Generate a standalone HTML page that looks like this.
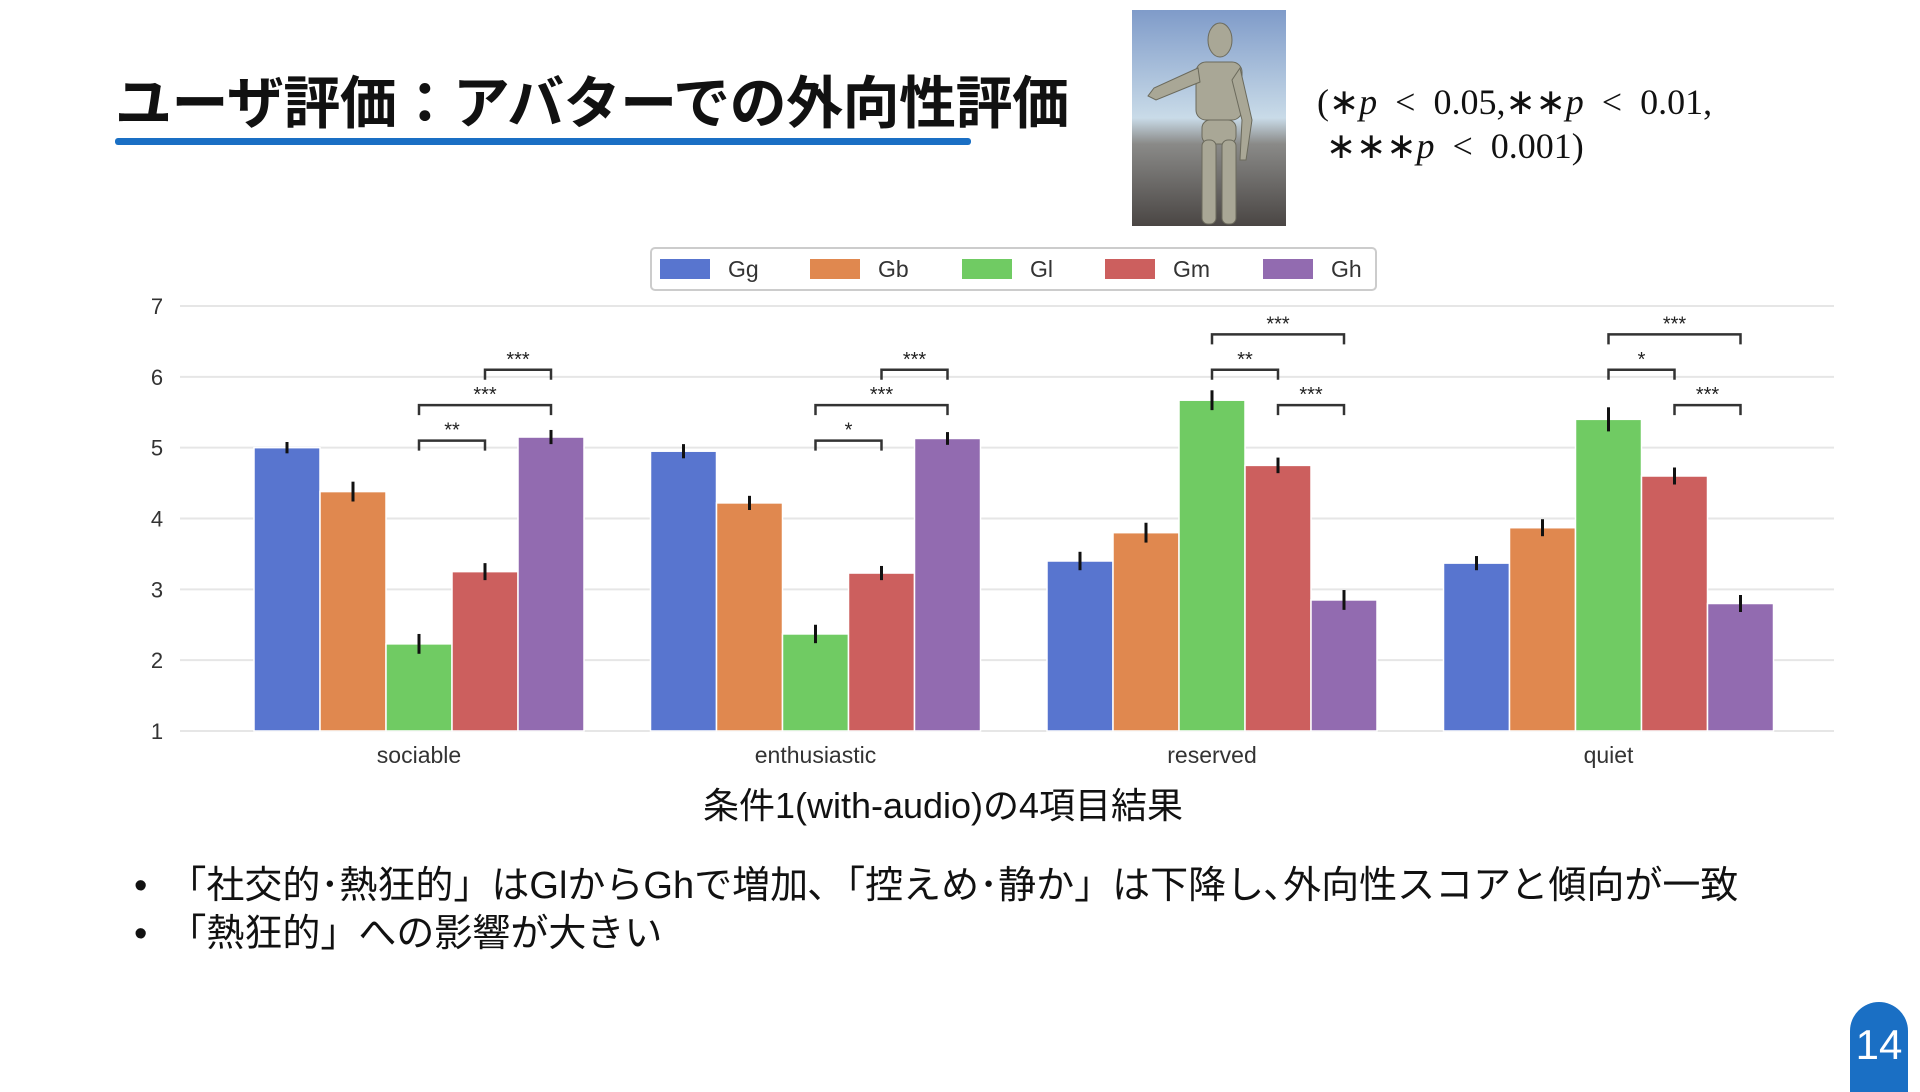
<!DOCTYPE html>
<html><head><meta charset="utf-8">
<style>
html,body{margin:0;padding:0;background:#fff;}
body{width:1920px;height:1080px;position:relative;overflow:hidden;font-family:"Liberation Sans","Noto Sans CJK JP",sans-serif;}
.abs{position:absolute;}
</style></head>
<body>
<div class="abs" style="left:115px;top:58px;font-size:57px;font-weight:bold;color:#111;white-space:nowrap;letter-spacing:-0.5px;font-family:'Liberation Sans','Noto Sans CJK JP',sans-serif;">ユーザ評価：アバターでの外向性評価</div>
<div class="abs" style="left:115px;top:138px;width:856px;height:7px;background:#1a6fc4;border-radius:3px;"></div>

<svg class="abs" style="left:1132px;top:10px;" width="154" height="216" viewBox="0 0 154 216">
<defs><linearGradient id="sky" x1="0" y1="0" x2="0" y2="1"><stop offset="0" stop-color="#7f9bc9"/><stop offset="0.5" stop-color="#c9dbe8"/><stop offset="0.62" stop-color="#8a8a88"/><stop offset="1" stop-color="#4a4644"/></linearGradient></defs>
<rect width="154" height="216" fill="url(#sky)"/>
<g fill="#a9a796" stroke="#6b6a5c" stroke-width="1">
<ellipse cx="88" cy="30" rx="12" ry="17"/>
<rect x="64" y="52" width="46" height="58" rx="10"/>
<path d="M66 58 L22 78 L16 86 L24 90 L68 72Z"/>
<path d="M108 58 L120 110 L114 150 L108 150 L110 110 L100 70Z"/>
<rect x="70" y="110" width="34" height="24" rx="8"/>
<rect x="70" y="130" width="14" height="84" rx="6"/>
<rect x="90" y="130" width="14" height="84" rx="6"/>
</g></svg>

<div class="abs" style="left:1317px;top:80px;font-family:'Liberation Serif',serif;font-size:36px;line-height:44px;color:#111;white-space:nowrap;">(∗<i>p</i> &nbsp;&lt;&nbsp; 0.05,∗∗<i>p</i> &nbsp;&lt;&nbsp; 0.01,<br>&nbsp;∗∗∗<i>p</i> &nbsp;&lt;&nbsp; 0.001)</div>

<svg class="abs" id="chart" style="left:0;top:0;" width="1920" height="1080"></svg>

<div class="abs" style="left:0;width:1886px;text-align:center;top:777px;font-size:36px;color:#111;">条件1(with-audio)の4項目結果</div>

<div class="abs" style="left:134px;top:862px;font-size:38px;line-height:48px;color:#111;white-space:nowrap;">
<div>•&nbsp;&nbsp;「社交的･熱狂的」はGlからGhで増加､「控えめ･静か」は下降し､外向性スコアと傾向が一致</div>
<div>•&nbsp;&nbsp;「熱狂的」への影響が大きい</div>
</div>

<div class="abs" style="left:1850px;top:1002px;width:58px;height:90px;background:#1a6fc4;border-radius:29px 29px 0 0;color:#fff;font-size:42px;text-align:center;line-height:86px;">14</div>

<script>
const categories=["sociable","enthusiastic","reserved","quiet"];
const seriesNames=["Gg","Gb","Gl","Gm","Gh"];
const seriesColors=["#5875cf","#e0884f","#70cb63","#cc5f5e","#926bb0"];
const valsGg=[5.0,4.95,3.4,3.37];
const valsGb=[4.38,4.22,3.8,3.87];
const valsGl=[2.23,2.37,5.67,5.4];
const valsGm=[3.25,3.23,4.75,4.6];
const valsGh=[5.15,5.13,2.85,2.8];
const errGg=[0.08,0.1,0.13,0.1];
const errGb=[0.14,0.1,0.14,0.12];
const errGl=[0.14,0.13,0.14,0.17];
const errGm=[0.12,0.1,0.11,0.12];
const errGh=[0.1,0.09,0.14,0.12];
const yTicks=[1,2,3,4,5,6,7];
const bracketCat=[0,0,0,1,1,1,2,2,2,3,3,3];
const bracketFrom=[2,2,3,2,2,3,2,3,2,2,3,2];
const bracketTo=[3,4,4,3,4,4,3,4,4,3,4,4];
const bracketLevel=[5.1,5.6,6.1,5.1,5.6,6.1,6.1,5.6,6.6,6.1,5.6,6.6];
const bracketLabel=["**","***","***","*","***","***","**","***","***","*","***","***"];

const NS="http://www.w3.org/2000/svg";
const svg=document.getElementById('chart');
const allVals=[valsGg,valsGb,valsGl,valsGm,valsGh];
const allErr=[errGg,errGb,errGl,errGm,errGh];
const X0=180,X1=1834,Y0=731,Y1=306;
const y=v=>Y0-(v-1)*(Y0-Y1)/6;
const groupW=396.5;
const barW=66;
const xc=i=>419+groupW*i;
const xb=(i,s)=>xc(i)+(s-2)*barW;
function el(tag,attrs,parent){const e=document.createElementNS(NS,tag);for(const k in attrs)e.setAttribute(k,attrs[k]);(parent||svg).appendChild(e);return e;}

yTicks.forEach(t=>{
  const g=el('line',{x1:X0,x2:X1,y1:y(t),y2:y(t),stroke:'#e6e6e6','stroke-width':2});
  
  
  const tx=el('text',{x:157,y:y(t)+8,'text-anchor':'middle','font-size':22,fill:'#333'});
  tx.textContent=t;
  
  
});
categories.forEach((c,i)=>{
  const tx=el('text',{x:xc(i),y:763,'text-anchor':'middle','font-size':23,fill:'#333'});
  tx.textContent=c;
  
  
  allVals.forEach((vals,s)=>{
    const cx=xb(i,s);
    const r=el('rect',{x:cx-barW/2,y:y(vals[i]),width:barW,height:Y0-y(vals[i]),fill:seriesColors[s],stroke:'#fff','stroke-width':1.5});
    
    
    const e=allErr[s][i];
    const l=el('line',{x1:cx,x2:cx,y1:y(vals[i]+e),y2:y(vals[i]-e),stroke:'#111','stroke-width':3});
    
    
  });
});
bracketCat.forEach((ci,k)=>{
  const xa=xb(ci,bracketFrom[k]),xz=xb(ci,bracketTo[k]),yy=y(bracketLevel[k]);
  const p=el('path',{d:`M${xa} ${yy+10} V${yy} H${xz} V${yy+10}`,fill:'none',stroke:'#333','stroke-width':2.5});
  
  
  const t=el('text',{x:(xa+xz)/2,y:yy-4,'text-anchor':'middle','font-size':20,fill:'#222'});
  t.textContent=bracketLabel[k];
  
  
});
const lg=el('rect',{x:651,y:248,width:725,height:42,fill:'#fff',stroke:'#ccc','stroke-width':2,rx:4});


const lx=[660,810,962,1105,1263];
seriesNames.forEach((n,s)=>{
  const r=el('rect',{x:lx[s],y:259,width:50,height:20,fill:seriesColors[s]});
  
  
  const t=el('text',{x:lx[s]+68,y:277,'font-size':23,fill:'#333'});
  t.textContent=n;
  
  
});
</script>
</body></html>
